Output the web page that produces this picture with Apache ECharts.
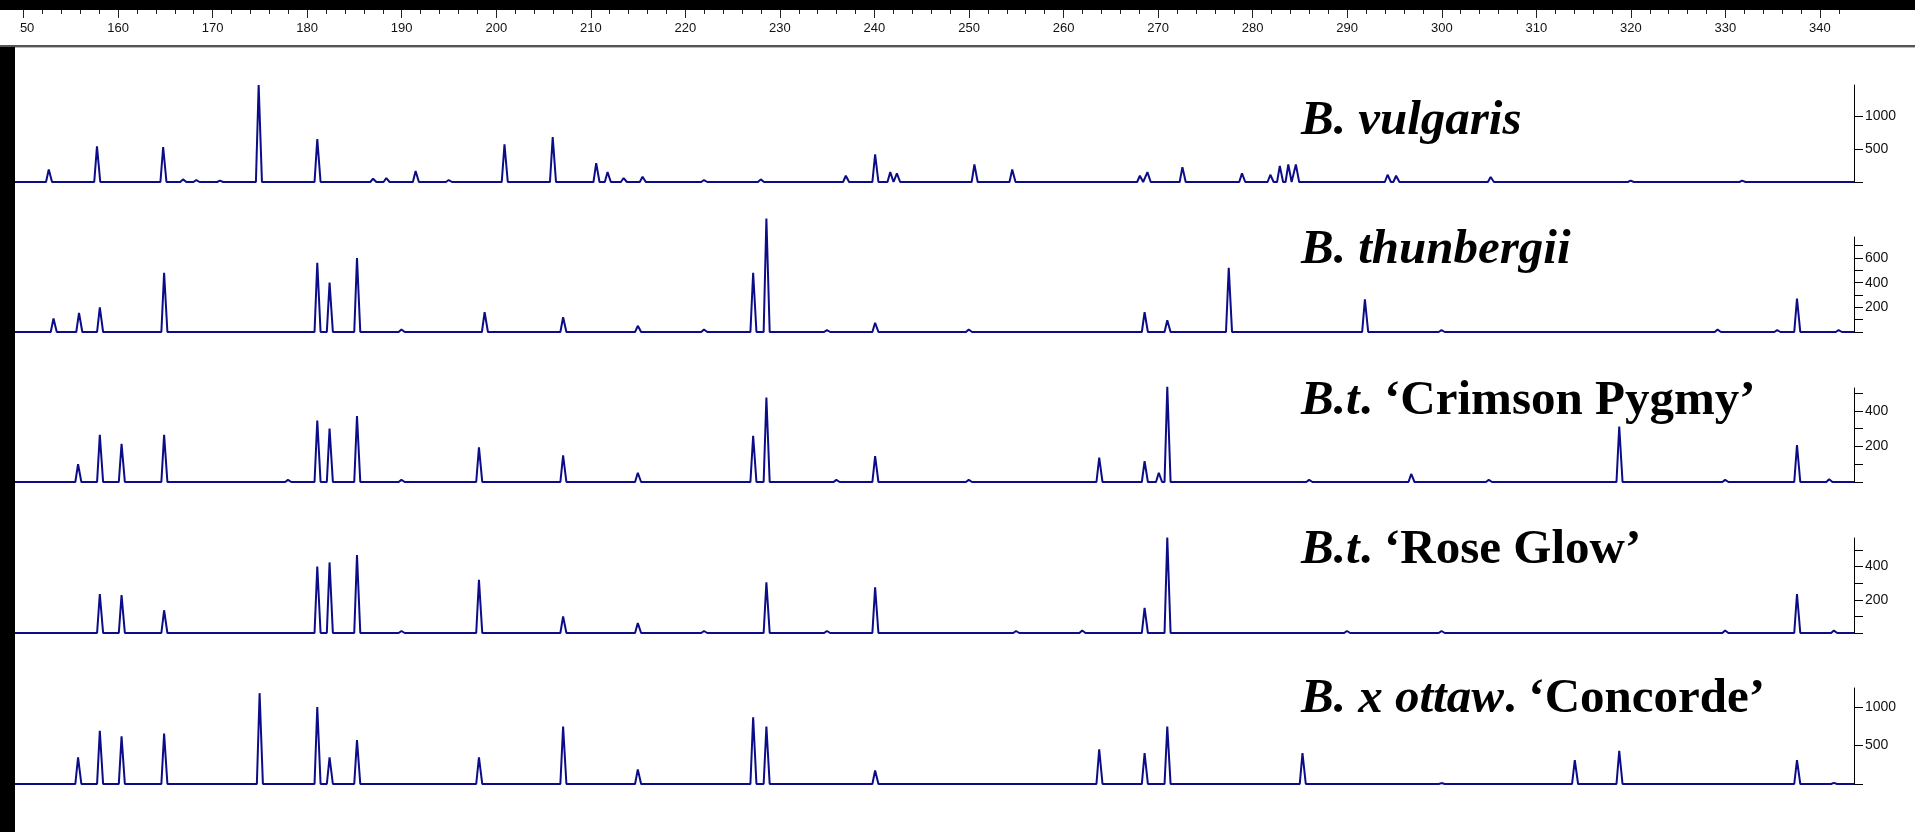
<!DOCTYPE html>
<html>
<head>
<meta charset="utf-8">
<script src="https://cdn.jsdelivr.net/npm/echarts@6/dist/echarts.min.js"></script>
<style>
html, body {margin: 0; padding: 0; background: #fff;}
#chart {width: 1915px; height: 832px;}
</style>
</head>
<body>
<div id="chart"></div>
<script>
// ruler (size in bp)
var rulerLabels = [150, 160, 170, 180, 190, 200, 210, 220, 230, 240, 250, 260, 270, 280, 290, 300, 310, 320, 330, 340];

// peaks: size (bp) and height (rfu) per sample
var vulgarisSize = [152.7, 157.8, 164.8, 166.9, 168.3, 170.8, 174.9, 181.1, 187.0, 188.4, 191.5, 195.0, 200.9, 206.0, 210.6, 211.8, 213.5, 215.5, 222.0, 228.0, 237.0, 240.1, 241.7, 242.4, 250.6, 254.6, 268.1, 268.9, 272.6, 278.9, 281.9, 282.9, 283.8, 284.6, 294.3, 295.2, 305.2, 320.0, 331.8];
var vulgarisHeight = [190, 540, 530, 40, 30, 20, 1470, 650, 50, 60, 165, 30, 570, 680, 285, 150, 60, 80, 30, 40, 95, 420, 150, 130, 265, 190, 95, 150, 225, 130, 110, 245, 265, 265, 110, 95, 75, 20, 20];

var thunbergiiSize = [153.2, 155.9, 158.1, 164.9, 181.1, 182.4, 185.3, 190.0, 198.8, 207.1, 215.0, 222.0, 227.2, 228.6, 235.0, 240.1, 250.0, 268.6, 271.0, 277.5, 291.9, 300.0, 329.2, 335.5, 337.6, 342.0];
var thunbergiiHeight = [110, 155, 200, 480, 560, 400, 600, 20, 160, 120, 50, 20, 480, 920, 15, 75, 20, 160, 95, 520, 265, 15, 20, 15, 270, 15];

var crimsonSize = [155.8, 158.1, 160.4, 164.9, 178.0, 181.1, 182.4, 185.3, 190.0, 198.2, 207.1, 215.0, 227.2, 228.6, 236.0, 240.1, 250.0, 263.8, 268.6, 270.1, 271.0, 286.0, 296.8, 305.0, 318.8, 330.0, 337.6, 341.0];
var crimsonHeight = [100, 265, 215, 265, 12, 345, 300, 370, 12, 195, 150, 52, 260, 475, 12, 145, 12, 137, 117, 52, 535, 12, 45, 12, 312, 12, 208, 15];

var roseSize = [158.1, 160.4, 164.9, 181.1, 182.4, 185.3, 190.0, 198.2, 207.1, 215.0, 222.0, 228.6, 235.0, 240.1, 255.0, 262.0, 268.6, 271.0, 290.0, 300.0, 330.0, 337.6, 341.5];
var roseHeight = [235, 228, 137, 400, 425, 470, 12, 320, 100, 60, 12, 305, 12, 275, 12, 15, 152, 575, 12, 12, 15, 235, 15];

var concordeSize = [155.8, 158.1, 160.4, 164.9, 175.0, 181.1, 182.4, 185.3, 198.2, 207.1, 215.0, 227.2, 228.6, 240.1, 263.8, 268.6, 271.0, 285.3, 300.0, 314.1, 318.8, 337.6, 341.5];
var concordeHeight = [345, 690, 620, 655, 1180, 1000, 345, 570, 345, 745, 190, 865, 745, 175, 450, 400, 745, 400, 12, 310, 430, 310, 15];

var xMin = 149.1, xMax = 343.6;

// sample panels
var panels = [
    {name: "vulgaris", title: "{i|B. vulgaris}", size: vulgarisSize, height: vulgarisHeight,
        top: 85, h: 97, max: 1470, ticks: [0, 500, 1000], labels: [500, 1000], titleTop: 97},
    {name: "thunbergii", title: "{i|B. thunbergii}", size: thunbergiiSize, height: thunbergiiHeight,
        top: 237, h: 95, max: 770, ticks: [0, 100, 200, 300, 400, 500, 600, 700], labels: [200, 400, 600], titleTop: 226},
    {name: "crimson", title: "{i|B.t}{n|. \u2018Crimson Pygmy\u2019}", size: crimsonSize, height: crimsonHeight,
        top: 388, h: 94, max: 528, ticks: [0, 100, 200, 300, 400, 500], labels: [200, 400], titleTop: 377},
    {name: "rose", title: "{i|B.t}{n|. \u2018Rose Glow\u2019}", size: roseSize, height: roseHeight,
        top: 538, h: 95, max: 572, ticks: [0, 100, 200, 300, 400, 500], labels: [200, 400], titleTop: 526},
    {name: "concorde", title: "{i|B. x ottaw}{n|. \u2018Concorde\u2019}", size: concordeSize, height: concordeHeight,
        top: 688, h: 96, max: 1247, ticks: [0, 500, 1000], labels: [500, 1000], titleTop: 675}
];

// each peak drawn as a narrow spike on the baseline
function trace(sizes, heights) {
    var pts = [[xMin, 0]];
    for (var i = 0; i < sizes.length; i++) {
        var s = sizes[i], h = heights[i];
        pts.push([s - 0.32, 0], [s - 0.03, h], [s + 0.03, h], [s + 0.32, 0]);
    }
    pts.push([xMax, 0]);
    return pts;
}

var minorTicks = [];
rulerLabels.forEach(function (v) {
    [2, 4, 6, 8].forEach(function (d) {
        if (v + d <= 342) minorTicks.push(v + d);
    });
});

var grids = [], xAxes = [], yAxes = [], series = [], titles = [];
panels.forEach(function (p, i) {
    grids.push({left: 15, width: 1839, top: p.top, height: p.h});
    xAxes.push({type: "value", gridIndex: i, min: xMin, max: xMax, show: false});
    yAxes.push({
        type: "value", gridIndex: i, position: "right", min: 0, max: p.max,
        axisLine: {show: true, lineStyle: {color: "#000", width: 1}},
        axisTick: {show: true, length: 9, customValues: p.ticks, lineStyle: {color: "#000", width: 1}},
        axisLabel: {
            customValues: p.labels, margin: 11, fontSize: 14, color: "#111", fontFamily: "Liberation Sans",
            formatter: function (v) { return String(v); }
        },
        splitLine: {show: false}
    });
    series.push({
        name: p.name, type: "line", xAxisIndex: i, yAxisIndex: i, data: trace(p.size, p.height),
        symbol: "none", clip: false, animation: false,
        lineStyle: {color: "#0c0c88", width: 2}
    });
    titles.push({
        left: 1301, top: p.titleTop, padding: 0, text: p.title,
        textStyle: {
            rich: {
                i: {fontFamily: "Liberation Serif", fontSize: 49, fontWeight: "bold", fontStyle: "italic", color: "#000", lineHeight: 49},
                n: {fontFamily: "Liberation Serif", fontSize: 49, fontWeight: "bold", color: "#000", lineHeight: 49}
            }
        }
    });
});

// ruler on top: one grid for long ticks + labels, one for short ticks
var rulerGrids = [
    {ticks: rulerLabels, len: 8, labels: true},
    {ticks: minorTicks, len: 4, labels: false}
];
rulerGrids.forEach(function (r) {
    var gi = grids.length;
    grids.push({left: 15, width: 1839, top: 10, height: 36});
    xAxes.push({
        type: "value", gridIndex: gi, position: "top", min: xMin, max: xMax,
        axisLine: {show: false, onZero: false},
        axisTick: {show: true, inside: true, length: r.len, customValues: r.ticks, lineStyle: {color: "#222"}},
        axisLabel: {
            show: r.labels, inside: true, customValues: rulerLabels, margin: 12,
            fontSize: 13, color: "#111", fontFamily: "Liberation Sans"
        },
        splitLine: {show: false}
    });
    yAxes.push({type: "value", gridIndex: gi, min: 0, max: 1, show: false});
});

var chart = echarts.init(document.getElementById("chart"));
chart.setOption({
    backgroundColor: "#fff",
    animation: false,
    title: titles,
    grid: grids,
    xAxis: xAxes,
    yAxis: yAxes,
    series: series,
    graphic: [
        {type: "rect", z: 100, shape: {x: 0, y: 0, width: 1915, height: 10}, style: {fill: "#000"}},
        {type: "rect", z: 100, shape: {x: 0, y: 20, width: 19.5, height: 22}, style: {fill: "#fff"}},
        {type: "rect", z: 100, shape: {x: 0, y: 45, width: 1915, height: 2}, style: {fill: "#555"}},
        {type: "rect", z: 100, shape: {x: 0, y: 47, width: 1915, height: 1}, style: {fill: "#bbb"}},
        {type: "rect", z: 100, shape: {x: 0, y: 47, width: 15, height: 785}, style: {fill: "#000"}}
    ]
});
window.addEventListener("resize", function () {
    chart.resize();
});
</script>
</body>
</html>
